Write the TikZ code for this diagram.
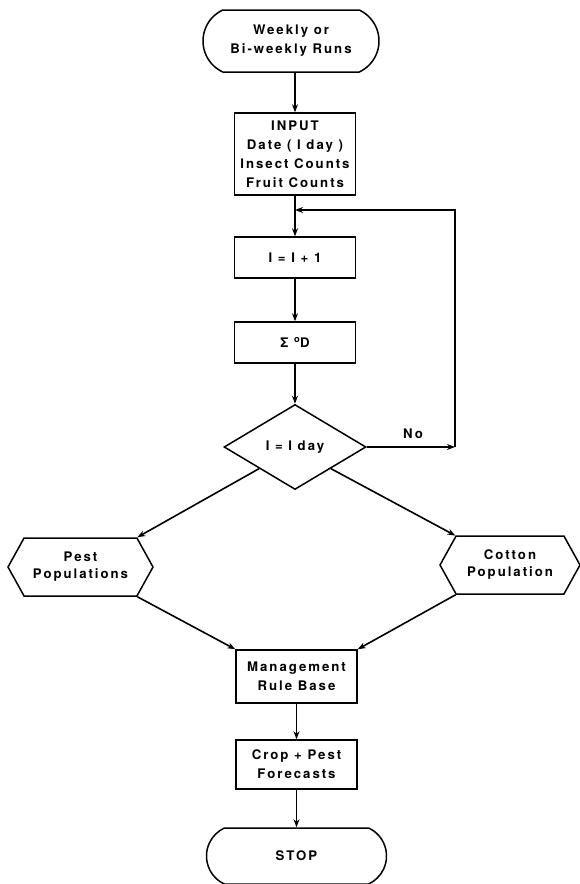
\documentclass[tikz,border=0pt]{standalone}
\usepackage{fontspec}
\setmainfont{TeX Gyre Heros}[LetterSpace=15]
\usetikzlibrary{shapes.geometric,shapes.misc,shapes.symbols,arrows.meta}
\begin{document}
\begin{tikzpicture}[x=1pt,y=-1pt,
  every node/.style={font=\fontsize{13.2}{19}\selectfont\bfseries, align=center, inner sep=0pt},
  term/.style={draw, line width=1.5pt, rounded rectangle, rounded rectangle arc length=130, minimum width=176pt, minimum height=62pt},
  proc/.style={draw, line width=1.5pt, rectangle, minimum width=121pt},
  dec/.style={draw, line width=1.5pt, diamond, minimum width=142pt, minimum height=85pt},
  hexa/.style={draw, line width=1.5pt, signal, signal to=west and east, signal pointer angle=122, minimum height=58pt},
  conn/.style={line width=1.6pt, -{Stealth[length=8pt,width=6pt]}}
]
\useasboundingbox (0,0) rectangle (580,884);

\node[term] (start) at (291,41) {Weekly or\\Bi-weekly Runs};
\node[proc, minimum height=82pt] (input) at (295,154) {INPUT\\Date ( I day )\\Insect Counts\\Fruit Counts};
\node[proc, minimum height=41pt] (inc) at (295,257.5) {I = I + 1};
\node[proc, minimum height=41pt] (sum) at (295,342.5) {Σ \textsuperscript{o}D};
\node[dec] (dec) at (295,447) {I = I day};
\node (no) at (413,434) {No};
\node[hexa, minimum width=145pt, font=\fontsize{13.2}{17}\selectfont\bfseries] (pest) at (80.5,567) {Pest\\Populations};
\node[hexa, minimum width=140pt, font=\fontsize{13.2}{17}\selectfont\bfseries] (cotton) at (510,565) {Cotton\\Population};
\node[proc, minimum height=53pt] (mgmt) at (296.5,676.5) {Management\\Rule Base};
\node[proc, minimum height=49pt] (crop) at (296.5,764.5) {Crop + Pest\\Forecasts};
\node[term, minimum width=180pt, minimum height=56pt] (stop) at (296.5,856) {STOP};

\coordinate (lr) at (455,447);
\coordinate (lt) at (455,210);
\coordinate (j) at (295,210);

\draw[conn] (start.south -| input.north) -- (input.north);
\draw[conn] (input.south) -- (inc.north);
\draw[conn] (inc.south) -- (sum.north);
\draw[conn] (sum.south) -- (dec.north);
\draw[conn] (dec.east) -- (lr);
\draw[conn] (lr) -- (lt) -- (j);
\draw[conn] (dec.south west) -- (pest.north east);
\draw[conn] (dec.south east) -- (cotton.north west);
\draw[conn] (pest.south east) -- (mgmt.north west);
\draw[conn] (cotton.south west) -- (mgmt.north east);
\draw[conn] (mgmt.south) -- (crop.north);
\draw[conn] (crop.south) -- (stop.north);
\end{tikzpicture}
\end{document}
